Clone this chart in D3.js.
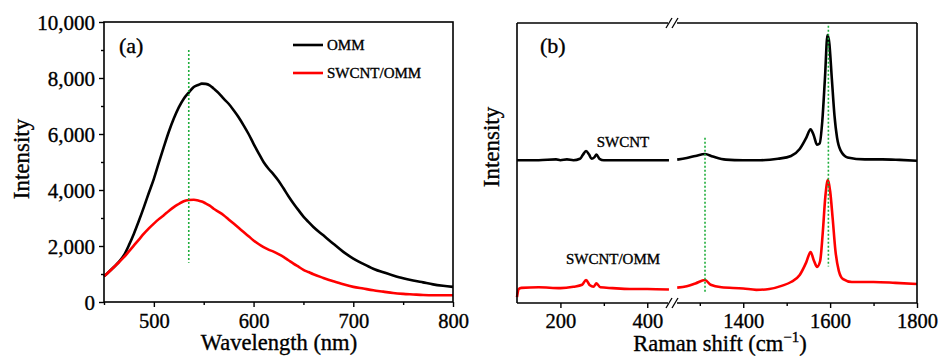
<!DOCTYPE html>
<html><head><meta charset="utf-8">
<script src="https://cdn.jsdelivr.net/npm/d3@7"></script>
<style>body{margin:0;background:#fff}svg{display:block}svg text{font-family:"Liberation Serif",Tinos,"Times New Roman",serif !important}</style>
</head><body><svg id="c" width="942" height="356" font-family="Liberation Serif, serif"></svg>
<script>
// ---------- Panel (a) data ----------
const wavelength = [450,455,460,465,470,475,480,485,490,495,500,505,510,515,520,525,530,535,540,545,548,552,556,560,565,570,575,580,585,590,595,600,605,610,615,620,625,630,635,640,645,650,655,660,670,680,690,700,710,720,730,740,750,760,770,780,790,800];
const omm =        [920,1080,1250,1430,1670,2030,2440,2900,3390,3900,4400,4980,5540,6080,6550,6950,7260,7480,7680,7760,7800,7790,7740,7620,7460,7260,7080,6850,6600,6310,6000,5650,5320,5000,4760,4560,4330,4060,3780,3520,3280,3050,2860,2680,2380,2080,1790,1550,1360,1190,1060,950,850,770,700,630,580,540];
const swcntOmm =   [920,1080,1250,1420,1600,1810,2020,2230,2440,2630,2800,2960,3100,3250,3390,3500,3600,3640,3650,3620,3590,3520,3440,3330,3220,3100,2950,2800,2650,2500,2350,2200,2070,1960,1870,1800,1710,1610,1490,1370,1260,1150,1070,990,860,740,630,540,480,420,370,320,290,270,250,240,240,240];
const xTicksA = [500,600,700,800];
const xMinorA = [450,550,650,750];
const yTicksA = [0,2000,4000,6000,8000,10000];
const yMinorA = [1000,3000,5000,7000,9000];
const legendA = ["OMM","SWCNT/OMM"];
const markerA = [535];

// ---------- Panel (b) data ----------
const ramanBlackX = [100,150,190,200,215,230,245,252,259,266,272,278,283,290,300,350,400,450,
  1248,1270,1290,1312,1330,1360,1400,1440,1480,1510,1530,1545,1555,1562,1570,1576,1582,1588,1594,1598,1604,1610,1616,1624,1640,1680,1720,1760,1800];
const ramanBlackY = [51,51,51.3,51,51.3,51,51.5,53,54.3,53,51.5,52,53,51.5,51,51,51,51,
  51.2,51.8,52.5,53.2,52.3,51.2,51,51,51.5,52.5,55,59,62,60,56.5,57,65,80,95.7,93,80,67,59,54.5,52,51.3,51.3,51.1,50.8];
const ramanRedX = [100,104,110,150,200,230,250,259,268,276,283,292,320,360,400,450,
  1248,1270,1290,1312,1325,1350,1400,1430,1460,1490,1510,1530,1545,1555,1563,1570,1577,1583,1589,1595,1600,1606,1612,1620,1630,1650,1700,1750,1800];
const ramanRedY = [2.1,5,5.4,5.6,5.3,5.8,6.5,8.2,6.3,5.8,7,5.6,5.3,5,5,4.8,
  5.5,6,7,8.2,6.5,5.6,5.2,4.7,5,6.2,7.5,10,14.5,18.2,15,12.9,15,25,38,44,40,30,19,11.5,8.5,7.5,7.5,7.2,6.8];
const xTicksB = [200,400,1400,1600,1800];
const xMinorB = [300,1300,1500,1700];
const labelsB = ["SWCNT","SWCNT/OMM"];
const markersB = [1312,1596];

const FONT = "Liberation Serif, Tinos, Times New Roman, serif";
const svg = d3.select("#c");
const green = "#1fae3c";

// ================= Panel (a) =================
const xa = d3.scaleLinear().domain([450,800]).range([104,453]);
const ya = d3.scaleLinear().domain([0,10000]).range([302,22]);
const ga = svg.append("g");

const lineA = d3.line().x((d,i)=>xa(wavelength[i])).y(d=>ya(d)).curve(d3.curveMonotoneX);
ga.append("path").attr("d",lineA(omm)).attr("fill","none").attr("stroke","#000").attr("stroke-width",2.6);
ga.append("path").attr("d",lineA(swcntOmm)).attr("fill","none").attr("stroke","#ff0000").attr("stroke-width",2.6);

ga.selectAll(".mk").data(markerA).enter().append("line")
  .attr("x1",d=>xa(d)).attr("x2",d=>xa(d)).attr("y1",ya(9000)).attr("y2",ya(1400))
  .attr("stroke",green).attr("stroke-width",1.6).attr("stroke-dasharray","2,2");

const axA = ga.append("g").attr("transform","translate(0,302)")
  .call(d3.axisBottom(xa).tickValues(xTicksA).tickSize(5).tickFormat(d3.format("d")));
ga.append("g").attr("transform","translate(0,302)")
  .call(d3.axisBottom(xa).tickValues(xMinorA).tickSize(3).tickFormat(""));
const ayA = ga.append("g").attr("transform","translate(104,0)")
  .call(d3.axisLeft(ya).tickValues(yTicksA).tickSize(5).tickFormat(d3.format(",")));
ga.append("g").attr("transform","translate(104,0)")
  .call(d3.axisLeft(ya).tickValues(yMinorA).tickSize(3).tickFormat(""));
ga.selectAll(".domain").remove();
ga.selectAll(".tick line").attr("stroke","#000").attr("stroke-width",1.4);
axA.selectAll("text").attr("font-size",20.5).attr("y",null).attr("dy",null).attr("transform","translate(0,26)");
ayA.selectAll("text").attr("font-size",21).attr("x",-9).attr("dy","0.35em");
ga.append("rect").attr("x",104).attr("y",22).attr("width",349).attr("height",280)
  .attr("fill","none").attr("stroke","#000").attr("stroke-width",1.6);

ga.append("text").attr("x",119).attr("y",53).attr("font-size",22).text("(a)");
legendA.forEach((t,i)=>{
  const y = 45 + i*28;
  ga.append("line").attr("x1",293).attr("x2",323).attr("y1",y).attr("y2",y)
    .attr("stroke",i===0?"#000":"#ff0000").attr("stroke-width",2.6);
  ga.append("text").attr("x",327).attr("y",y+5).attr("font-size",15).text(t);
});
ga.append("text").attr("x",279).attr("y",350).attr("text-anchor","middle").attr("font-size",22.5).text("Wavelength (nm)");
ga.append("text").attr("transform","translate(29,159) rotate(-90)").attr("text-anchor","middle").attr("font-size",23).text("Intensity");

// ================= Panel (b) =================
const xb = d3.scaleLinear().domain([100,457,1236,1800]).range([517,672,672,917]);
const yb = d3.scaleLinear().domain([0,100]).range([303,23]);
const gb = svg.append("g");

function seg(xs, ys, lo, hi){
  const pts=[]; xs.forEach((x,i)=>{ if(x>=lo && x<=hi) pts.push([x,ys[i]]); }); return pts;
}
const lineB = d3.line().x(d=>xb(d[0])).y(d=>yb(d[1])).curve(d3.curveMonotoneX);
[[ramanBlackX,ramanBlackY,"#000"],[ramanRedX,ramanRedY,"#ff0000"]].forEach(([xs,ys,c])=>{
  [[0,460],[1200,1900]].forEach(([lo,hi])=>{
    gb.append("path").attr("d",lineB(seg(xs,ys,lo,hi))).attr("fill","none").attr("stroke",c).attr("stroke-width",2.6);
  });
});
gb.append("line").attr("x1",xb(markersB[0])).attr("x2",xb(markersB[0])).attr("y1",yb(59)).attr("y2",yb(4))
  .attr("stroke",green).attr("stroke-width",1.6).attr("stroke-dasharray","2,2");
gb.append("line").attr("x1",xb(markersB[1])).attr("x2",xb(markersB[1])).attr("y1",yb(99)).attr("y2",yb(13))
  .attr("stroke",green).attr("stroke-width",1.6).attr("stroke-dasharray","2,2");

const axB = gb.append("g").attr("transform","translate(0,303)")
  .call(d3.axisBottom(xb).tickValues(xTicksB).tickSize(5).tickFormat(d3.format("d")));
gb.append("g").attr("transform","translate(0,303)")
  .call(d3.axisBottom(xb).tickValues(xMinorB).tickSize(3).tickFormat(""));
gb.selectAll(".domain").remove();
gb.selectAll(".tick line").attr("stroke","#000").attr("stroke-width",1.4);
axB.selectAll("text").attr("font-size",20.5).attr("y",null).attr("dy",null).attr("transform","translate(0,25)");

const fr = gb.append("g").attr("stroke","#000").attr("stroke-width",1.6).attr("fill","none");
fr.append("line").attr("x1",517).attr("x2",517).attr("y1",23).attr("y2",303);
fr.append("line").attr("x1",917).attr("x2",917).attr("y1",23).attr("y2",303);
[23,303].forEach(y=>{
  fr.append("line").attr("x1",517).attr("x2",668).attr("y1",y).attr("y2",y);
  fr.append("line").attr("x1",677).attr("x2",917).attr("y1",y).attr("y2",y);
  [669,675].forEach(x=>{
    fr.append("line").attr("x1",x-3).attr("y1",y+5).attr("x2",x+3).attr("y2",y-5).attr("stroke-width",1.3);
  });
});

gb.append("text").attr("x",540).attr("y",53).attr("font-size",22).text("(b)");
gb.append("text").attr("x",623).attr("y",147).attr("text-anchor","middle").attr("font-size",15).text(labelsB[0]);
gb.append("text").attr("x",613).attr("y",264).attr("text-anchor","middle").attr("font-size",15).text(labelsB[1]);
const tt = gb.append("text").attr("x",720).attr("y",351).attr("text-anchor","middle").attr("font-size",22.5);
tt.append("tspan").text("Raman shift (cm");
tt.append("tspan").attr("dy",-9).attr("font-size",15).text("\u22121");
tt.append("tspan").attr("dy",9).text(")");
gb.append("text").attr("transform","translate(499,147) rotate(-90)").attr("text-anchor","middle").attr("font-size",23).text("Intensity");

// serif everywhere (d3 axes set sans-serif on their groups); slight stroke for weight
svg.selectAll("g").attr("font-family",FONT);
svg.selectAll("text").attr("font-family",FONT).attr("fill","#000")
  .attr("stroke","#000").attr("stroke-width",0.35);
</script></body></html>
